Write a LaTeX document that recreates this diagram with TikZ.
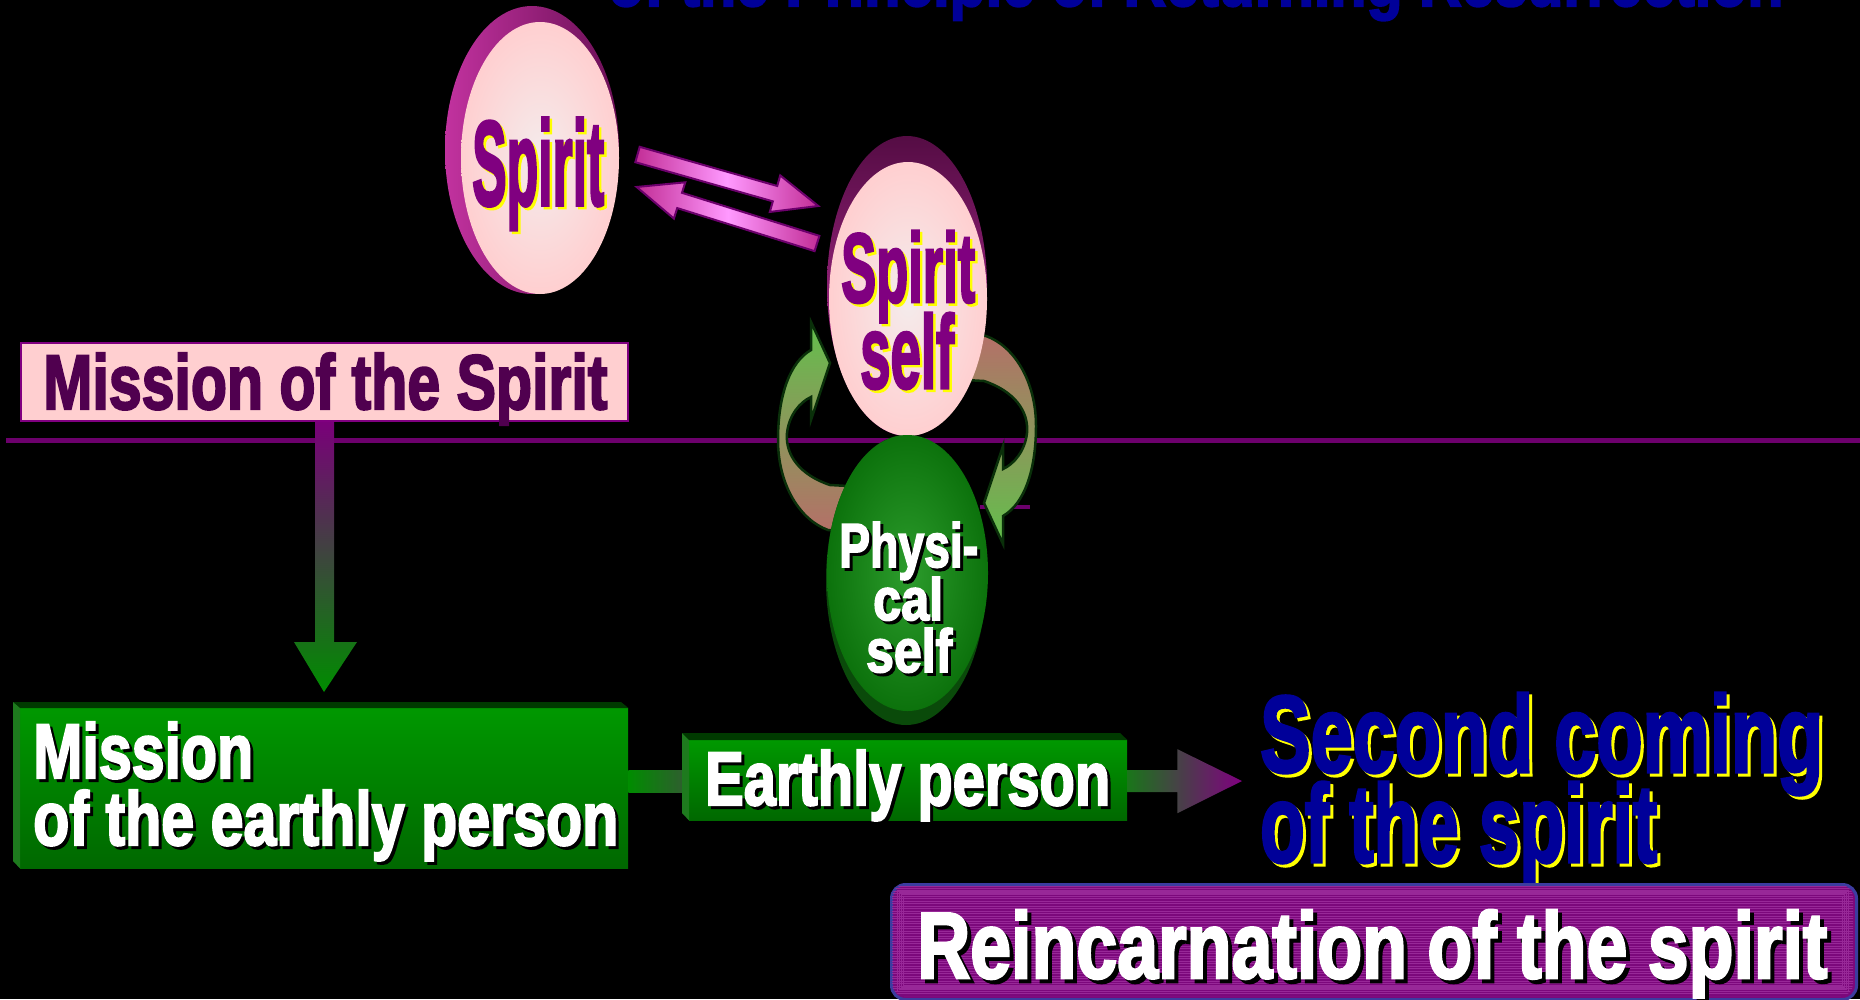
\documentclass[tikz,border=0pt]{standalone}
\usepackage{fontspec}
\usepackage{graphicx}
\usetikzlibrary{calc,shapes.geometric}
\newfontfamily\imp{Liberation Sans}[UprightFont={* Bold},FakeBold=3]
\definecolor{linepurple}{HTML}{6C006C}
\definecolor{rimmag}{HTML}{C2329F}
\definecolor{rimdark}{HTML}{6A0F55}
\definecolor{facein}{HTML}{F4ECEC}
\definecolor{faceout}{HTML}{FFCFD0}
\definecolor{txtpurple}{HTML}{800080}
\definecolor{msdark}{HTML}{50004F}
\definecolor{titleblue}{HTML}{000099}
\definecolor{yel}{HTML}{FFFF00}
\definecolor{gfront1}{HTML}{009800}
\definecolor{gfront2}{HTML}{006800}
\definecolor{gtop}{HTML}{003A00}
\definecolor{gleft}{HTML}{1E7A1E}
\definecolor{psin}{HTML}{2C9C2C}
\definecolor{psout}{HTML}{0C720C}
\definecolor{psrimc}{HTML}{0A4A0A}
\definecolor{cygreen}{HTML}{62C04C}
\definecolor{cybrown}{HTML}{B47068}
\definecolor{cyline}{HTML}{0A300A}
\definecolor{reinfill}{HTML}{7C087C}
\definecolor{reinline}{HTML}{982898}
\definecolor{reinborder}{HTML}{3C3CA0}
% shadowed text: name, x, baseline y, width, height, fg, shadow, offset, text
\newcommand\stxt[9]{%
  \node[anchor=base west,inner sep=0pt,text=#7] at (#2+#8,#3+#8) {\resizebox{#4pt}{#5pt}{\imp #9}};
  \node[anchor=base west,inner sep=0pt,text=#6] (#1) at (#2,#3) {\resizebox{#4pt}{#5pt}{\imp #9}};}
\begin{document}
\begin{tikzpicture}[x=1pt,y=-1pt,
  magarrow/.style={draw=linepurple,line width=2pt,left color=rimmag!90!purple,right color=rimmag!90!purple,middle color=magenta!40!white},
  cyarrow/.style={draw=cyline,line width=2.5pt},
  facepink/.style={ellipse,inner sep=0pt,inner color=facein,outer color=faceout},
  gbox/.style={anchor=north west,inner sep=0pt,top color=gfront1,bottom color=gfront2}]
\useasboundingbox (0,0) rectangle (1860,999);
\fill[black] (0,0) rectangle (1860,999);
% title (cut off at top)
\begin{scope}
\clip (0,0) rectangle (1860,999);
\node[anchor=base west,inner sep=0pt,text=titleblue] (title) at (608,6) {\resizebox{1175pt}{50pt}{\imp of the Principle of Returning Resurrection}};
\end{scope}
% horizontal line
\draw[line width=5pt,linepurple] (6,440) -- (1860,440);
\draw[line width=3.5pt,linepurple] (980,507) -- (1030,507);
% Spirit
\node[ellipse,inner sep=0pt,minimum width=174pt,minimum height=288pt,left color=rimmag,right color=rimdark] (spiritrim) at (532,150) {};
\node[facepink,minimum width=158pt,minimum height=272pt] (spirit) at (540,158) {};
\stxt{spiritlbl}{472}{205}{132}{87}{txtpurple}{yel}{2.5}{Spirit}
% cycle arrows
\shade[cyarrow,top color=cygreen,bottom color=cybrown]
  (848,486) -- (830,485) .. controls (800,475) and (785,455) .. (787,433)
  .. controls (789,415) and (800,402) .. (811,397) -- (811,420) -- (830,363)
  -- (811,322) -- (811,350) .. controls (790,362) and (778,395) .. (778,440)
  .. controls (778,485) and (800,520) .. (828,530) -- (842,531) -- cycle;
\shade[cyarrow,top color=cybrown,bottom color=cygreen]
  (966,380) -- (984,381) .. controls (1014,391) and (1029,411) .. (1027,433)
  .. controls (1025,451) and (1014,464) .. (1003,469) -- (1003,446) -- (984,503)
  -- (1003,544) -- (1003,516) .. controls (1024,504) and (1036,471) .. (1036,426)
  .. controls (1036,381) and (1014,346) .. (986,336) -- (972,335) -- cycle;
% Spirit self and Physical self
\node[ellipse,inner sep=0pt,minimum width=160pt,minimum height=300pt,top color=rimdark!80!black,bottom color=rimmag] (ssrim) at (907,286) {};
\node[ellipse,inner sep=0pt,minimum width=160pt,minimum height=290pt,fill=psrimc] (psrim) at (906,580) {};
\node[facepink,minimum width=158pt,minimum height=274pt] (ss) at (908,299) {};
\node[ellipse,inner sep=0pt,minimum width=161pt,minimum height=276pt,inner color=psin,outer color=psout] (ps) at (907.5,573) {};
\stxt{sslbla}{841}{302}{134}{71}{txtpurple}{yel}{2.5}{Spirit}
\stxt{sslblb}{860}{388}{94}{75}{txtpurple}{yel}{2.5}{self}
\stxt{pslbla}{839}{567}{139}{45}{white}{black}{3}{Physi-}
\stxt{pslblb}{873}{620}{70}{43}{white}{black}{3}{cal}
\stxt{pslblc}{866}{672}{86}{44}{white}{black}{3}{self}
% arrows between Spirit and Spirit self
\coordinate (ra) at (637.5,154.5);
\coordinate (la) at (817,243.5);
\begin{scope}[shift={(ra)},rotate=-15.9]
\shade[magarrow] (0,-8) -- (143,-8) -- (143,-19) -- (188,0) -- (143,19) -- (143,8) -- (0,8) -- cycle;
\end{scope}
\begin{scope}[shift={(la)},rotate=162.6]
\shade[magarrow] (0,-8) -- (144,-8) -- (144,-19) -- (189,0) -- (144,19) -- (144,8) -- (0,8) -- cycle;
\end{scope}
% Mission of the Spirit
\node[anchor=north west,inner sep=0pt,draw=txtpurple,line width=2pt,fill=faceout,minimum width=607pt,minimum height=78pt] (ms) at (20,342) {};
\node[anchor=base west,inner sep=0pt,text=msdark] (mslbl) at (43,409) {\resizebox{564pt}{56pt}{\imp Mission of the Spirit}};
\coordinate (tipd) at (324,692);
\shade[top color=txtpurple!95!black,bottom color=green!55!black]
  ($(ms.south)+(-9.5,0)$) -- ($(ms.south)+(9.5,0)$) -- ($(ms.south)+(9.5,220)$)
  -- ($(ms.south)+(32.5,220)$) -- (tipd) -- ($(ms.south)+(-30.5,220)$)
  -- ($(ms.south)+(-9.5,220)$) -- cycle;
% Mission of the earthly person
\node[gbox,minimum width=608pt,minimum height=160pt] (mep) at (20,708) {};
\fill[gtop] (13,702) -- (621,702) -- (mep.north east) -- (mep.north west) -- cycle;
\fill[gleft] (13,702) -- (mep.north west) -- (mep.south west) -- (13,861) -- cycle;
\stxt{meplbla}{33}{778}{220}{56}{white}{black}{3}{Mission}
\stxt{meplblb}{33}{845}{585}{55}{white}{black}{3}{of the earthly person}
% Earthly person
\node[gbox,minimum width=438pt,minimum height=80pt] (ep) at (689,740) {};
\shade[left color=green!55!black,right color=green!25!black!60!gray] ($(mep.east)+(0,-18)$) rectangle ($(ep.west)+(0,12)$);
\fill[gtop] (682,733) -- (1120,733) -- (ep.north east) -- (ep.north west) -- cycle;
\fill[gleft] (682,733) -- (ep.north west) -- (ep.south west) -- (682,813) -- cycle;
\stxt{eplbl}{705}{805}{405}{55}{white}{black}{3}{Earthly person}
% arrow to Second coming
\coordinate (sctip) at (1242,781);
\shade[left color=green!45!black!80!gray,right color=txtpurple]
  ($(ep.east)+(0,-10)$) -- ($(ep.east)+(50,-10)$) -- ($(ep.east)+(50,-31)$)
  -- (sctip) -- ($(ep.east)+(50,33)$) -- ($(ep.east)+(50,12)$) -- ($(ep.east)+(0,12)$) -- cycle;
\stxt{sclbla}{1260}{772}{563}{79}{titleblue}{yel}{3}{Second coming}
\stxt{sclblb}{1260}{862}{397}{80}{titleblue}{yel}{3}{of the spirit}
% Reincarnation of the spirit
\node[anchor=north west,inner sep=0pt,rounded corners=14pt,draw=reinborder,line width=3pt,fill=reinfill,minimum width=965pt,minimum height=115pt] (rein) at (890,883) {};
\begin{scope}
\clip[rounded corners=12pt] (892,885) rectangle (1853,996);
\foreach \yy in {886,888.5,...,998} \draw[reinline,line width=0.5pt] (890,\yy) -- (1856,\yy);
\foreach \dd in {7,9,11,13} \draw[reinline,line width=0.6pt] (890+\dd,883+\dd) rectangle (1855-\dd,998-\dd);
\end{scope}
\stxt{reinlbl}{917}{978}{910}{68}{white}{black}{4}{Reincarnation of the spirit}
\end{tikzpicture}
\end{document}
